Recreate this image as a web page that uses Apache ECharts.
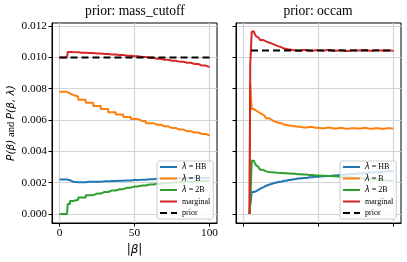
<!DOCTYPE html>
<html><head><meta charset="utf-8">
<script src="https://cdn.jsdelivr.net/npm/echarts@6/dist/echarts.min.js"></script>
<style>html,body{margin:0;padding:0;background:#fff}#c{width:407px;height:262px}</style>
</head><body><div id="c"></div>
<script>
// ---- data ----
const titles = ['prior: mass_cutoff', 'prior: occam'];
const names = ['λ = HB', 'λ = B', 'λ = 2B', 'marginal', 'prior'];
const yTicks = [0, 0.002, 0.004, 0.006, 0.008, 0.010, 0.012];
const xTicks = [0, 50, 100];

const xLeft = [0,5,6,8,10,15,20,25,30,35,40,45,50,55,60,65,70,75,80,85,90,95,100];
const hbLeft = [0.0022,0.0022,0.00215,0.00206,0.00203,0.00203,0.00205,0.00206,0.00208,0.0021,0.00212,0.00214,0.00216,0.00219,0.00222,0.00224,0.00226,0.00227,0.00228,0.00229,0.0023,0.0023,0.0023];
const bLeft = [0.0078,0.0078,0.0077,0.0076,0.0075,0.0073,0.0071,0.0069,0.0067,0.0065,0.00635,0.0062,0.00606,0.00594,0.0058,0.0057,0.0056,0.00549,0.00539,0.00529,0.0052,0.00511,0.00502];
const b2Left = [0,0,0.00063,0.00083,0.0009,0.00105,0.0012,0.0013,0.0014,0.0015,0.00158,0.00168,0.00176,0.00182,0.00188,0.00193,0.00197,0.002,0.00203,0.00206,0.00208,0.0021,0.0021];
const margLeft = [0.01,0.01,0.01035,0.01034,0.01033,0.0103,0.01028,0.01025,0.01022,0.01019,0.01015,0.01011,0.01007,0.01003,0.00998,0.00992,0.00985,0.00979,0.00973,0.00966,0.00958,0.00948,0.00938];
const priorXLeft = [0, 100];
const priorLeft = [0.010, 0.010];

const xRight = [4,5,6,7,8,9,10,12,14,16,18,20,22,24,27,30,33,36,40,44,48,52,56,60,64,68,72,76,80,84,88,92,96,100];
const hbRight = [0,0.0006,0.0014,0.0014,0.00145,0.0015,0.00155,0.00165,0.00175,0.00183,0.0019,0.00196,0.00201,0.00206,0.00212,0.00217,0.00222,0.00226,0.0023,0.00234,0.00237,0.0024,0.00243,0.00246,0.00249,0.00252,0.00255,0.00258,0.00261,0.00264,0.00267,0.0027,0.00272,0.00275];
const bRight = [0,0.0083,0.0067,0.0067,0.0066,0.0066,0.0065,0.0064,0.00628,0.00612,0.006,0.0059,0.00584,0.00578,0.0057,0.00565,0.0056,0.00557,0.00553,0.00555,0.0055,0.00548,0.0055,0.00546,0.00549,0.00545,0.00548,0.00546,0.00549,0.00545,0.00547,0.00545,0.00548,0.00545];
const b2Right = [0,0.0007,0.0034,0.0034,0.00326,0.0031,0.003,0.00282,0.00272,0.00268,0.00266,0.00264,0.00263,0.00262,0.0026,0.00258,0.00256,0.00254,0.00252,0.00248,0.00246,0.00244,0.00242,0.0024,0.00237,0.00235,0.00232,0.00229,0.00226,0.00222,0.00218,0.00215,0.00212,0.0021];
const margRight = [0,0.0096,0.01165,0.01165,0.01148,0.01135,0.01127,0.01112,0.01103,0.01095,0.01088,0.0108,0.01072,0.01064,0.01056,0.0105,0.01046,0.01043,0.01047,0.01042,0.01046,0.01044,0.01047,0.01043,0.01046,0.01041,0.01046,0.01044,0.01048,0.01043,0.01046,0.01044,0.01045,0.01041];
const priorXRight = [5, 100];
const priorRight = [0.01045, 0.01045];

// ---- styling ----
const colors = ['#1f77b4', '#ff7f0e', '#2ca02c', '#d62728', '#000000'];
const SERIF = 'Liberation Serif';
const pair = (xs, ys) => xs.map((x, i) => [x, ys[i]]);

function mkSeries(idx, xs, hb, b, b2, marg, px, pr) {
  const s = [];
  [hb, b, b2, marg].forEach((ys, k) => {
    s.push({
      name: names[k], type: 'line', xAxisIndex: idx, yAxisIndex: idx,
      data: pair(xs, ys), step: 'middle', symbol: 'none', silent: true,
      lineStyle: {color: colors[k], width: 2}, itemStyle: {color: colors[k]},
      z: 2 + k * 0.1, animation: false
    });
  });
  s.push({
    name: names[4], type: 'line', xAxisIndex: idx, yAxisIndex: idx,
    data: pair(px, pr), symbol: 'none', silent: true,
    lineStyle: {color: '#000', width: 2, type: [7, 4]}, itemStyle: {color: '#000'},
    z: 3, animation: false
  });
  return s;
}

const grids = [
  {left: 52, top: 23, width: 165, height: 200},
  {left: 236, top: 23, width: 165, height: 200}
];

function mkX(idx) {
  return {
    type: 'value', gridIndex: idx, min: -5, max: 105,
    name: idx === 0 ? '|{i|β}|' : '',
    nameLocation: 'middle', nameGap: 18,
    nameTextStyle: {fontFamily: 'DejaVu Sans', fontSize: 12, color: '#000',
      rich: {i: {fontFamily: 'DejaVu Sans', fontStyle: 'italic', fontSize: 12}}},
    axisLine: {show: true, onZero: false, lineStyle: {color: '#000', width: 1}},
    axisTick: {show: true, customValues: xTicks, length: 3.5, lineStyle: {color: '#000', width: 1}},
    axisLabel: {show: idx === 0, customValues: xTicks, margin: 5, fontFamily: SERIF, fontSize: 11.3, color: '#000'},
    splitLine: {show: true, lineStyle: {color: '#d4d4d4', width: 1.2}}
  };
}
function mkY(idx) {
  return {
    type: 'value', gridIndex: idx, min: -0.00058, max: 0.0122,
    name: idx === 0 ? '{i|P(β)} and {i|P(β, λ)}' : '',
    nameLocation: 'middle', nameGap: 35, nameRotate: 90,
    nameTextStyle: {fontFamily: SERIF, fontSize: 10.5, color: '#000',
      rich: {i: {fontFamily: 'DejaVu Sans', fontStyle: 'italic', fontSize: 10.5}}},
    axisLine: {show: true, onZero: false, lineStyle: {color: '#000', width: 1}},
    axisTick: {show: true, customValues: yTicks, length: 3.5, lineStyle: {color: '#000', width: 1}},
    axisLabel: {show: idx === 0, customValues: yTicks, margin: 5, fontFamily: SERIF, fontSize: 11.3, color: '#000',
      formatter: v => v.toFixed(3)},
    splitLine: {show: true, lineStyle: {color: '#d4d4d4', width: 1.2}}
  };
}

function mkLegend(left) {
  return {
    left: left, top: 161, orient: 'vertical',
    itemWidth: 17, itemHeight: 8, itemGap: 3.5,
    padding: [2, 3, 2, 2],
    backgroundColor: 'rgba(255,255,255,0.8)', borderColor: '#cccccc', borderWidth: 1, borderRadius: 2,
    selectedMode: false,
    itemStyle: {opacity: 0},
    data: names,
    formatter: n => n.indexOf('λ') === 0 ? '{l|λ}' + n.slice(1) : n,
    textStyle: {fontFamily: SERIF, fontSize: 8, color: '#000',
      rich: {l: {fontFamily: 'DejaVu Sans', fontStyle: 'italic', fontSize: 8}}}
  };
}

const chart = echarts.init(document.getElementById('c'), null, {renderer: 'canvas'});
chart.setOption({
  animation: false,
  backgroundColor: '#fff',
  title: [
    {text: titles[0], left: 135, top: 4, textAlign: 'center', padding: 0,
      textStyle: {fontFamily: SERIF, fontSize: 13.6, fontWeight: 'normal', color: '#000'}},
    {text: titles[1], left: 318, top: 4, textAlign: 'center', padding: 0,
      textStyle: {fontFamily: SERIF, fontSize: 13.6, fontWeight: 'normal', color: '#000'}}
  ],
  grid: grids.map(g => Object.assign({show: true, borderColor: '#000', borderWidth: 1, backgroundColor: 'transparent'}, g)),
  xAxis: [mkX(0), mkX(1)],
  yAxis: [mkY(0), mkY(1)],
  legend: [mkLegend(157), mkLegend(340)],
  series: [].concat(
    mkSeries(0, xLeft, hbLeft, bLeft, b2Left, margLeft, priorXLeft, priorLeft),
    mkSeries(1, xRight, hbRight, bRight, b2Right, margRight, priorXRight, priorRight)
  )
});
</script>
</body></html>
